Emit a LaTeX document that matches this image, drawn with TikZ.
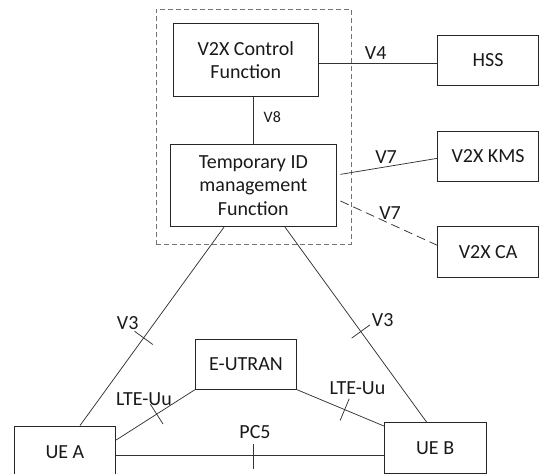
\documentclass[tikz,border=0pt]{standalone}
\usepackage{fontspec}
\setmainfont{Carlito}
\usetikzlibrary{calc}
\begin{document}
\begin{tikzpicture}[x=1pt,y=-1pt,
  box/.style={draw=black!85, line width=0.9pt, align=center, inner sep=0pt, text=black!90,
    font=\fontsize{20}{23.4}\selectfont},
  grpbox/.style={draw=black!55, line width=0.9pt, dash pattern=on 5pt off 3pt, inner sep=0pt},
  conn/.style={draw=black!80, line width=0.75pt},
  dconn/.style={conn, dash pattern=on 9pt off 5pt},
  lbl/.style={inner sep=0pt, text=black!90, font=\fontsize{20}{24}\selectfont},
  slbl/.style={inner sep=0pt, text=black!90, font=\fontsize{16}{19}\selectfont},
  ]
\useasboundingbox (0,0) rectangle (539,474);
\clip (0,0) rectangle (539,474);

% group (dashed)
\node[grpbox, minimum width=195pt, minimum height=234.9pt] (grp) at (253.5,126.75) {};

% boxes
\node[box, minimum width=145pt, minimum height=72.6pt] (ctrl) at (245.8,60) {V2X Control\\Function};
\node[box, minimum width=165.3pt, minimum height=82.7pt] (tid) at (253.35,185.35) {Temporary ID\\management\\Function};
\node[box, minimum width=100.8pt, minimum height=50pt] (hss) at (488.1,60) {HSS};
\node[box, minimum width=100.8pt, minimum height=50.7pt] (kms) at (488.1,156.35) {V2X KMS};
\node[box, minimum width=100.8pt, minimum height=50.6pt] (ca) at (488.1,252) {V2X CA};
\node[box, minimum width=101.4pt, minimum height=50.3pt] (eutran) at (246,364.15) {E-UTRAN};
\node[box, minimum width=101.7pt, minimum height=53pt] (uea) at (64.85,452.5) {UE A};
\node[box, minimum width=101.7pt, minimum height=50.6pt] (ueb) at (435.15,448) {UE B};

% connectors
\draw[conn] ([yshift=-3.3pt]ctrl.east) -- ([yshift=-3.3pt]hss.west);
\draw[conn] (tid.north) -- (tid.north |- ctrl.south);
\draw[conn] ([xshift=4pt,yshift=11pt]tid.east) -- ([yshift=-2pt]kms.west);
\draw[dconn] ([xshift=4pt,yshift=-15.65pt]tid.east) -- ([yshift=6.7pt]ca.west);

\draw[conn] ([xshift=-29.35pt]tid.south) -- coordinate[pos=.558] (t1) ([xshift=15.15pt]uea.north) coordinate (e1);
\draw[conn] ($(t1)!11.3pt!90:(e1)$) -- ($(t1)!11.3pt!-90:(e1)$);

\draw[conn] ([xshift=31.65pt]tid.south) -- coordinate[pos=.535] (t2) ([xshift=-8.45pt]ueb.north) coordinate (e2);
\draw[conn] ($(t2)!11.3pt!90:(e2)$) -- ($(t2)!11.3pt!-90:(e2)$);

\draw[conn] ([yshift=12.5pt]uea.east) -- coordinate[pos=.515] (t3) (eutran.south west) coordinate (e3);
\draw[conn] ($(t3)!11.8pt!90:(e3)$) -- ($(t3)!11.8pt!-90:(e3)$);

\draw[conn] (eutran.south east) -- coordinate[pos=.548] (t4) ([yshift=22pt]ueb.west) coordinate (e4);
\draw[conn] ($(t4)!11.8pt!90:(e4)$) -- ($(t4)!11.8pt!-90:(e4)$);

\draw[conn] ([yshift=-2.5pt]uea.east) -- coordinate[pos=.512] (t5) ([yshift=-7pt]ueb.west) coordinate (e5);
\draw[conn] ($(t5)!11pt!90:(e5)$) -- ($(t5)!14pt!-90:(e5)$);

% labels
\node[lbl] (lv4) at (375.7,53.3) {V4};
\node[slbl] (lv8) at (272.3,117.3) {V8};
\node[lbl] (lv7a) at (386,157.3) {V7};
\node[lbl] (lv7b) at (390,212.7) {V7};
\node[lbl] (lv3a) at (127.7,322.7) {V3};
\node[lbl] (lv3b) at (382.7,320) {V3};
\node[lbl] (llte1) at (144,399.3) {LTE-Uu};
\node[lbl] (llte2) at (357.5,388.3) {LTE-Uu};
\node[lbl] (lpc5) at (255,431.7) {PC5};
\end{tikzpicture}
\end{document}
